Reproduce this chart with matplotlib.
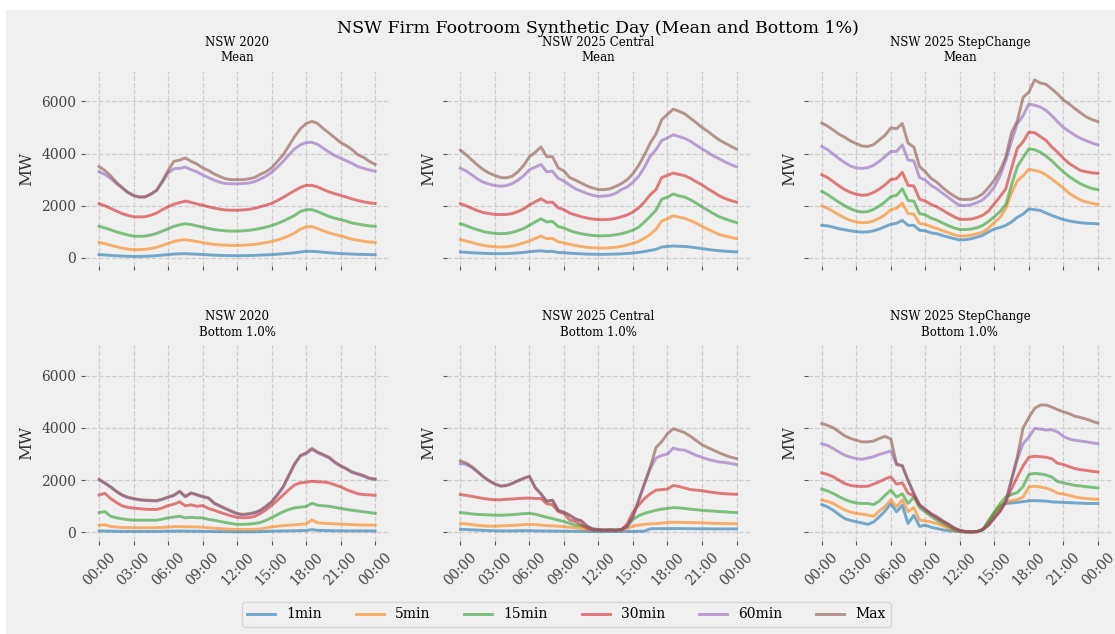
import numpy as np
import matplotlib
matplotlib.use("Agg")
import matplotlib.pyplot as plt

# half-hourly samples, 00:00 -> 24:00
hours = np.arange(0, 24.5, 0.5)
tick_hours = [0, 3, 6, 9, 12, 15, 18, 21, 24]
tick_labels = ["00:00", "03:00", "06:00", "09:00", "12:00", "15:00", "18:00", "21:00", "00:00"]

series_names = ["1min", "5min", "15min", "30min", "60min", "Max"]
series_colors = ["tab:blue", "tab:orange", "tab:green", "tab:red", "tab:purple", "tab:brown"]

# NSW 2020 - Mean
nsw2020_mean_1 = [130, 115, 100, 85, 75, 65, 60, 60, 65, 75, 90, 110, 130, 150, 160, 165, 155, 145, 135, 120, 110, 100, 95, 90, 90, 90, 95, 100, 110, 120, 130, 145, 160, 180, 200, 230, 255, 255, 240, 220, 200, 185, 170, 160, 150, 140, 135, 130, 125]
nsw2020_mean_5 = [600, 550, 490, 430, 380, 340, 320, 320, 330, 360, 410, 480, 560, 630, 680, 700, 670, 630, 590, 550, 520, 500, 490, 480, 480, 490, 500, 520, 550, 590, 630, 690, 760, 850, 960, 1100, 1190, 1200, 1130, 1040, 960, 900, 850, 780, 720, 680, 640, 610, 600]
nsw2020_mean_15 = [1210, 1150, 1080, 1000, 940, 880, 840, 830, 840, 880, 940, 1030, 1120, 1210, 1270, 1310, 1280, 1230, 1180, 1130, 1090, 1060, 1040, 1030, 1030, 1040, 1060, 1090, 1130, 1180, 1240, 1320, 1410, 1520, 1630, 1780, 1850, 1850, 1780, 1680, 1590, 1520, 1470, 1410, 1340, 1300, 1260, 1230, 1210]
nsw2020_mean_30 = [2080, 2000, 1900, 1800, 1700, 1630, 1580, 1570, 1580, 1640, 1720, 1850, 1960, 2060, 2120, 2180, 2130, 2070, 2020, 1960, 1910, 1870, 1840, 1830, 1830, 1840, 1860, 1900, 1960, 2020, 2090, 2200, 2320, 2450, 2580, 2700, 2780, 2780, 2720, 2620, 2530, 2460, 2400, 2330, 2260, 2200, 2150, 2110, 2090]
nsw2020_mean_60 = [3300, 3200, 3050, 2850, 2680, 2500, 2380, 2330, 2340, 2440, 2580, 2900, 3250, 3420, 3430, 3480, 3380, 3300, 3180, 3080, 2980, 2900, 2850, 2840, 2840, 2850, 2870, 2920, 3020, 3130, 3280, 3480, 3700, 3950, 4180, 4330, 4420, 4430, 4350, 4200, 4050, 3920, 3820, 3720, 3620, 3500, 3430, 3370, 3320]
nsw2020_mean_max = [3500, 3350, 3150, 2900, 2700, 2520, 2400, 2340, 2340, 2450, 2600, 2950, 3350, 3700, 3750, 3830, 3700, 3600, 3450, 3350, 3220, 3120, 3030, 3000, 3000, 3000, 3030, 3080, 3200, 3300, 3450, 3700, 3950, 4300, 4650, 4950, 5150, 5230, 5150, 4950, 4780, 4600, 4420, 4300, 4150, 3950, 3850, 3700, 3580]

# NSW 2025 Central - Mean
central_mean_1 = [230, 215, 200, 190, 180, 170, 165, 165, 170, 180, 195, 215, 240, 260, 275, 250, 255, 210, 200, 185, 170, 160, 150, 145, 140, 140, 145, 150, 160, 175, 190, 215, 250, 290, 330, 420, 440, 460, 450, 440, 420, 390, 360, 330, 300, 280, 260, 245, 230]
central_mean_5 = [700, 650, 590, 530, 480, 450, 430, 420, 430, 460, 510, 580, 650, 750, 840, 740, 750, 620, 580, 520, 480, 440, 410, 390, 380, 380, 390, 410, 450, 500, 560, 640, 760, 900, 1100, 1420, 1500, 1620, 1560, 1520, 1430, 1330, 1210, 1100, 1000, 900, 840, 790, 740]
central_mean_15 = [1310, 1240, 1150, 1080, 1010, 970, 940, 930, 940, 980, 1050, 1130, 1250, 1380, 1500, 1380, 1400, 1200, 1150, 1050, 980, 930, 890, 860, 850, 850, 860, 890, 930, 990, 1070, 1180, 1380, 1600, 1830, 2250, 2330, 2450, 2380, 2330, 2230, 2100, 1960, 1830, 1700, 1580, 1500, 1420, 1360]
central_mean_30 = [2080, 2000, 1900, 1810, 1740, 1700, 1670, 1660, 1670, 1700, 1780, 1880, 2030, 2150, 2270, 2130, 2140, 1920, 1850, 1720, 1650, 1580, 1530, 1490, 1470, 1470, 1480, 1520, 1580, 1650, 1760, 1920, 2150, 2420, 2620, 3080, 3170, 3250, 3200, 3150, 3050, 2920, 2800, 2650, 2520, 2380, 2280, 2200, 2140]
central_mean_60 = [3440, 3330, 3180, 3020, 2900, 2830, 2770, 2750, 2770, 2850, 2980, 3150, 3380, 3480, 3580, 3300, 3320, 3050, 2950, 2790, 2650, 2560, 2470, 2400, 2360, 2370, 2400, 2480, 2620, 2720, 2900, 3130, 3480, 3900, 4150, 4500, 4600, 4720, 4650, 4580, 4470, 4320, 4180, 4050, 3900, 3800, 3680, 3580, 3490]
central_mean_max = [4130, 3950, 3750, 3550, 3380, 3250, 3160, 3080, 3070, 3130, 3300, 3550, 3880, 4050, 4250, 3880, 3880, 3450, 3330, 3080, 2980, 2870, 2760, 2680, 2620, 2620, 2650, 2740, 2850, 3000, 3230, 3550, 3950, 4400, 4750, 5300, 5500, 5700, 5620, 5520, 5350, 5180, 5000, 4850, 4680, 4520, 4400, 4280, 4170]

# NSW 2025 StepChange - Mean
step_mean_1 = [1250, 1230, 1180, 1120, 1080, 1040, 1010, 990, 1000, 1040, 1110, 1200, 1290, 1330, 1440, 1250, 1250, 1060, 1040, 960, 930, 860, 800, 740, 690, 700, 740, 800, 870, 1000, 1110, 1170, 1250, 1380, 1560, 1680, 1880, 1850, 1820, 1720, 1630, 1550, 1470, 1420, 1380, 1350, 1330, 1320, 1310]
step_mean_5 = [1990, 1900, 1780, 1650, 1530, 1440, 1380, 1350, 1360, 1420, 1520, 1660, 1850, 1900, 2100, 1700, 1680, 1320, 1290, 1200, 1130, 1050, 970, 890, 840, 840, 880, 930, 990, 1150, 1360, 1550, 1900, 2500, 2950, 3150, 3400, 3350, 3300, 3180, 3020, 2850, 2680, 2480, 2340, 2220, 2140, 2090, 2050]
step_mean_15 = [2550, 2430, 2280, 2130, 2000, 1880, 1800, 1760, 1780, 1860, 1990, 2150, 2350, 2400, 2650, 2200, 2180, 1700, 1650, 1530, 1450, 1340, 1240, 1150, 1090, 1090, 1110, 1160, 1250, 1400, 1580, 1780, 2050, 2800, 3500, 3850, 4180, 4150, 4050, 3900, 3720, 3500, 3300, 3120, 2970, 2840, 2740, 2660, 2620]
step_mean_30 = [3190, 3080, 2920, 2760, 2620, 2510, 2440, 2400, 2420, 2510, 2640, 2800, 3000, 3040, 3280, 2780, 2760, 2250, 2180, 2050, 1960, 1830, 1700, 1580, 1480, 1480, 1490, 1550, 1640, 1800, 2080, 2350, 2650, 3450, 4200, 4450, 4820, 4800, 4650, 4500, 4250, 4050, 3820, 3620, 3480, 3350, 3300, 3260, 3240]
step_mean_60 = [4270, 4150, 3980, 3800, 3650, 3520, 3450, 3430, 3460, 3550, 3700, 3880, 4080, 4080, 4330, 3750, 3720, 3080, 2980, 2780, 2650, 2480, 2320, 2150, 2010, 2010, 2040, 2120, 2230, 2440, 2720, 3150, 3730, 4480, 5150, 5450, 5900, 5850, 5780, 5650, 5450, 5220, 5000, 4850, 4700, 4580, 4490, 4400, 4330]
step_mean_max = [5170, 5050, 4900, 4740, 4620, 4480, 4380, 4290, 4270, 4340, 4520, 4700, 4980, 4950, 5150, 4400, 4250, 3500, 3300, 3050, 2900, 2700, 2520, 2370, 2250, 2240, 2250, 2320, 2460, 2700, 2980, 3350, 3880, 4800, 5250, 6150, 6350, 6820, 6700, 6650, 6470, 6280, 6050, 5900, 5720, 5560, 5400, 5300, 5220]

# NSW 2020 - Bottom 1%
nsw2020_low_1 = [60, 55, 50, 45, 40, 40, 40, 40, 40, 40, 40, 45, 50, 50, 55, 50, 50, 45, 45, 40, 35, 30, 30, 25, 25, 25, 25, 25, 30, 40, 50, 55, 60, 60, 65, 70, 75, 110, 80, 75, 70, 65, 65, 60, 60, 60, 60, 60, 60]
nsw2020_low_5 = [280, 290, 230, 210, 190, 185, 180, 180, 180, 180, 185, 195, 210, 220, 225, 215, 220, 210, 200, 180, 160, 145, 130, 120, 115, 115, 115, 120, 135, 170, 210, 240, 260, 280, 290, 310, 330, 480, 370, 350, 340, 330, 320, 310, 300, 290, 285, 280, 280]
nsw2020_low_15 = [760, 800, 620, 560, 520, 490, 470, 470, 470, 470, 470, 510, 560, 590, 620, 560, 580, 560, 560, 500, 470, 420, 380, 340, 310, 310, 320, 340, 380, 460, 570, 680, 790, 880, 940, 970, 990, 1120, 1040, 1020, 1000, 960, 920, 880, 850, 820, 790, 760, 730]
nsw2020_low_30 = [1430, 1500, 1300, 1150, 1020, 960, 930, 910, 890, 880, 880, 940, 1030, 1080, 1170, 1020, 1060, 1000, 1030, 920, 850, 770, 700, 630, 580, 560, 570, 610, 720, 860, 1040, 1230, 1430, 1640, 1820, 1900, 1920, 1960, 1940, 1930, 1900, 1820, 1750, 1640, 1560, 1480, 1450, 1440, 1420]
nsw2020_low_60 = [2000, 1880, 1730, 1560, 1420, 1330, 1280, 1240, 1220, 1210, 1200, 1260, 1340, 1410, 1560, 1360, 1500, 1430, 1360, 1310, 1110, 1000, 900, 800, 710, 670, 700, 740, 830, 980, 1160, 1430, 1730, 2170, 2600, 2920, 3010, 3180, 3050, 2950, 2850, 2670, 2530, 2420, 2290, 2220, 2150, 2060, 2030]
nsw2020_low_max = [2040, 1900, 1750, 1580, 1440, 1350, 1300, 1260, 1240, 1230, 1220, 1280, 1360, 1430, 1580, 1380, 1520, 1450, 1380, 1330, 1130, 1020, 920, 820, 730, 690, 720, 760, 850, 1000, 1180, 1450, 1750, 2200, 2640, 2950, 3050, 3220, 3080, 2980, 2880, 2700, 2560, 2450, 2320, 2250, 2180, 2080, 2050]

# NSW 2025 Central - Bottom 1%
central_low_1 = [120, 110, 100, 90, 80, 70, 65, 60, 60, 60, 65, 70, 70, 60, 60, 55, 55, 50, 50, 45, 45, 40, 40, 35, 35, 35, 35, 35, 35, 40, 40, 45, 50, 140, 145, 145, 145, 150, 150, 145, 145, 140, 140, 140, 135, 135, 135, 135, 135]
central_low_5 = [340, 330, 300, 270, 250, 240, 240, 250, 260, 270, 280, 300, 310, 300, 280, 260, 250, 240, 220, 200, 180, 150, 120, 100, 90, 80, 80, 80, 90, 150, 240, 280, 310, 330, 340, 360, 380, 390, 390, 380, 380, 370, 370, 360, 350, 345, 340, 335, 330]
central_low_15 = [760, 740, 710, 690, 680, 670, 660, 660, 670, 680, 700, 720, 730, 700, 640, 580, 530, 470, 420, 350, 280, 250, 220, 150, 110, 100, 100, 100, 120, 250, 500, 640, 730, 790, 850, 890, 920, 950, 940, 920, 890, 870, 850, 830, 820, 800, 790, 770, 760]
central_low_30 = [1450, 1420, 1380, 1340, 1300, 1270, 1250, 1250, 1270, 1280, 1300, 1310, 1320, 1300, 1300, 1100, 1060, 800, 720, 480, 420, 290, 160, 100, 90, 80, 90, 80, 100, 330, 780, 1050, 1300, 1480, 1620, 1640, 1660, 1800, 1760, 1700, 1640, 1620, 1600, 1560, 1530, 1500, 1480, 1470, 1460]
central_low_60 = [2640, 2600, 2480, 2310, 2120, 1970, 1850, 1770, 1790, 1870, 1970, 2070, 2140, 1710, 1470, 1190, 1230, 840, 770, 650, 510, 440, 240, 100, 90, 80, 90, 80, 100, 220, 600, 1220, 1850, 2450, 2850, 2950, 3000, 3230, 3170, 3150, 3050, 2950, 2880, 2800, 2750, 2700, 2680, 2640, 2600]
central_low_max = [2740, 2660, 2520, 2330, 2140, 1980, 1860, 1780, 1800, 1880, 1980, 2080, 2150, 1720, 1480, 1200, 1240, 850, 780, 660, 520, 450, 250, 110, 100, 90, 100, 90, 110, 230, 620, 1250, 1880, 2500, 3250, 3480, 3780, 3970, 3900, 3820, 3680, 3520, 3360, 3250, 3150, 3050, 2960, 2880, 2830]

# NSW 2025 StepChange - Bottom 1%
step_low_1 = [1070, 980, 850, 680, 530, 460, 410, 360, 310, 400, 600, 820, 1100, 790, 1040, 340, 660, 230, 280, 200, 150, 100, 70, 50, 30, 20, 20, 30, 100, 400, 740, 1000, 1110, 1130, 1150, 1180, 1210, 1220, 1210, 1200, 1170, 1160, 1150, 1140, 1130, 1120, 1110, 1110, 1110]
step_low_5 = [1240, 1190, 1110, 980, 860, 780, 730, 700, 660, 620, 820, 1000, 1250, 980, 1250, 800, 950, 480, 440, 400, 340, 260, 160, 90, 40, 20, 20, 30, 110, 420, 730, 1000, 1170, 1220, 1260, 1350, 1740, 1770, 1740, 1700, 1620, 1500, 1470, 1420, 1360, 1320, 1300, 1280, 1270]
step_low_15 = [1660, 1590, 1490, 1370, 1260, 1180, 1130, 1110, 1110, 1070, 1200, 1420, 1620, 1360, 1480, 1110, 1350, 950, 780, 620, 470, 350, 230, 120, 50, 20, 20, 30, 110, 450, 780, 1100, 1360, 1450, 1530, 1760, 2220, 2260, 2240, 2200, 2120, 1950, 1900, 1850, 1800, 1780, 1750, 1730, 1700]
step_low_30 = [2280, 2220, 2130, 2000, 1870, 1800, 1770, 1760, 1770, 1850, 1940, 2050, 2130, 1850, 1900, 1500, 1400, 1050, 880, 700, 560, 420, 290, 160, 70, 30, 20, 30, 110, 280, 560, 820, 1180, 1680, 2130, 2550, 2880, 2920, 2900, 2880, 2820, 2650, 2600, 2520, 2450, 2400, 2380, 2340, 2320]
step_low_60 = [3400, 3330, 3210, 3080, 2960, 2880, 2830, 2800, 2850, 2900, 2990, 3050, 3120, 2600, 2540, 1980, 1480, 1030, 860, 700, 580, 430, 310, 160, 70, 30, 20, 30, 110, 280, 550, 810, 1180, 2000, 2800, 3400, 3650, 3980, 3960, 3920, 3930, 3850, 3680, 3580, 3530, 3500, 3470, 3430, 3400]
step_low_max = [4170, 4100, 4010, 3850, 3700, 3600, 3530, 3470, 3470, 3500, 3600, 3680, 3580, 2620, 2560, 2000, 1500, 1050, 880, 720, 600, 450, 330, 180, 80, 40, 20, 30, 120, 290, 560, 820, 1200, 2050, 2900, 4000, 4400, 4750, 4880, 4880, 4800, 4700, 4620, 4550, 4450, 4400, 4340, 4260, 4190]

panels = [
    ("NSW 2020\nMean", [nsw2020_mean_1, nsw2020_mean_5, nsw2020_mean_15, nsw2020_mean_30, nsw2020_mean_60, nsw2020_mean_max]),
    ("NSW 2025 Central\nMean", [central_mean_1, central_mean_5, central_mean_15, central_mean_30, central_mean_60, central_mean_max]),
    ("NSW 2025 StepChange\nMean", [step_mean_1, step_mean_5, step_mean_15, step_mean_30, step_mean_60, step_mean_max]),
    ("NSW 2020\nBottom 1.0%", [nsw2020_low_1, nsw2020_low_5, nsw2020_low_15, nsw2020_low_30, nsw2020_low_60, nsw2020_low_max]),
    ("NSW 2025 Central\nBottom 1.0%", [central_low_1, central_low_5, central_low_15, central_low_30, central_low_60, central_low_max]),
    ("NSW 2025 StepChange\nBottom 1.0%", [step_low_1, step_low_5, step_low_15, step_low_30, step_low_60, step_low_max]),
]

bg = "#f0f0f0"
plt.rcParams["font.family"] = ["DejaVu Serif"]
plt.rcParams["axes.facecolor"] = bg
plt.rcParams["figure.facecolor"] = bg

fig, axes = plt.subplots(2, 3, figsize=(11.15, 6.34), dpi=100, sharex=True, sharey=True)
fig.subplots_adjust(left=0.0765, right=0.997, top=0.888, bottom=0.147, wspace=0.19, hspace=0.405)

for ax, (title, data) in zip(axes.flat, panels):
    for name, color, vals in zip(series_names, series_colors, data):
        ax.plot(hours, vals, color=color, alpha=0.6, lw=2.1, label=name)
    ax.set_title(title, fontsize=8.5, pad=7, linespacing=1.25)
    ax.set_ylabel("MW", fontsize=12, color="#333333")
    ax.grid(True, linestyle="--", color="#cccccc", lw=0.9)
    for s in ax.spines.values():
        s.set_visible(False)
    ax.tick_params(axis="both", length=3, width=0.8, color="#555555", labelcolor="#444444", labelsize=10)
    ax.set_yticks([0, 2000, 4000, 6000])
    ax.set_xticks(tick_hours)
    ax.set_xticklabels(tick_labels, rotation=45)
    ax.tick_params(axis="x", labelbottom=ax in axes[1])
    ax.tick_params(axis="y", labelleft=ax in axes[:, 0])

fig.suptitle("NSW Firm Footroom Synthetic Day (Mean and Bottom 1%)", fontsize=12.5, x=0.536, y=0.968)

handles, labels = axes[0, 0].get_legend_handles_labels()
leg = fig.legend(handles, labels, loc="lower center", bbox_to_anchor=(0.508, 0.0), ncol=6,
                 fontsize=10, frameon=True, facecolor=bg, edgecolor="#d0d0d0",
                 handlelength=2.0, columnspacing=2.45)

# white margin along the top and left edges, as in the source image
fig.patches.append(plt.Rectangle((0, 1 - 10 / 634), 1, 10 / 634, transform=fig.transFigure,
                                 facecolor="white", edgecolor="none", zorder=-1))
fig.patches.append(plt.Rectangle((0, 0), 6 / 1115, 1, transform=fig.transFigure,
                                 facecolor="white", edgecolor="none", zorder=-1))

fig.savefig("out.png", dpi=100, facecolor=bg)
